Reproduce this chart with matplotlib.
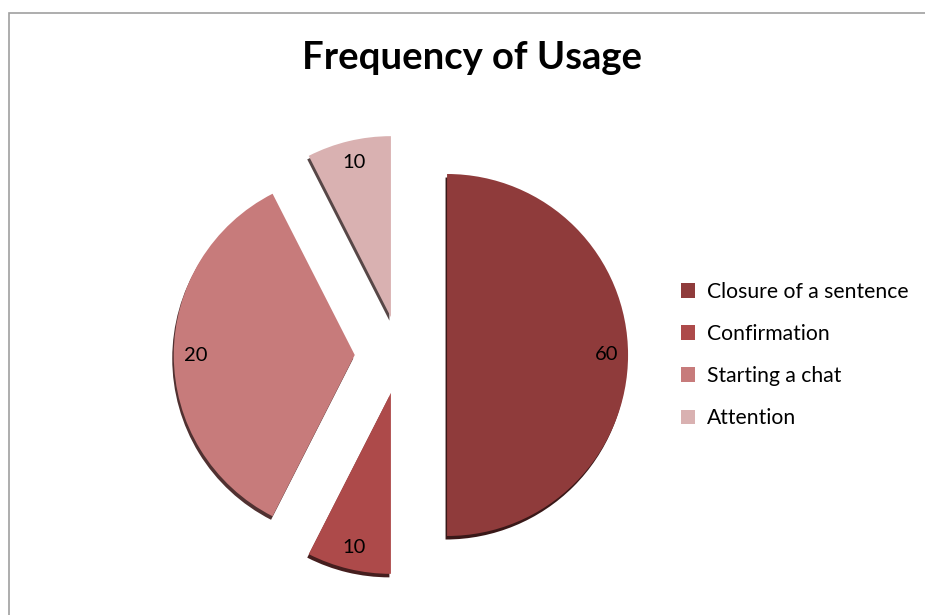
import numpy as np
import matplotlib.pyplot as plt
from matplotlib.patches import Rectangle

# slice shares as they appear in the picture, and the numbers printed on them
categories = ["Closure of a sentence", "Confirmation", "Starting a chat", "Attention"]
shares = [60, 9, 42, 9]
shown = ["60", "10", "20", "10"]
colors = ["#8f3b3b", "#ad4a4a", "#c77b7b", "#d9b1b1"]

plt.rcParams['font.family'] = ['Lato', 'DejaVu Sans']

W, H = 925, 615
fig = plt.figure(figsize=(W / 100, H / 100), dpi=100)

# chart frame (only the left and top edges are inside the image)
fig.patches.append(Rectangle((9 / W, -0.1), 1.2, (H - 13) / H + 0.1,
                             transform=fig.transFigure, fill=False,
                             edgecolor="#a0a0a0", linewidth=1.2))

ax = fig.add_axes([0, 0, 1, 1])
R = 181.0
cx, cy = 400, 355

wedges, _ = ax.pie(shares, colors=colors, startangle=90, counterclock=False,
                   explode=[0.26, 0.215, 0.25, 0.215], radius=1.0,
                   shadow=dict(ox=-0.006, oy=-0.014, shade=0.6, alpha=1),
                   wedgeprops=dict(linewidth=0))
ax.set_xlim(-cx / R, (W - cx) / R)
ax.set_ylim((cy - H) / R, cy / R)
ax.axis("off")

for w, txt in zip(wedges, shown):
    ang = np.deg2rad((w.theta1 + w.theta2) / 2)
    x = w.center[0] + 0.88 * np.cos(ang)
    y = w.center[1] + 0.88 * np.sin(ang)
    ax.text(x, y, txt, ha="center", va="center", fontsize=14.5, color="black")

fig.text(472 / W, 1 - 58 / H, "Frequency of Usage", ha="center", va="center",
         fontsize=27.5, fontweight="bold")

fig.legend(wedges, categories, loc="center left",
           bbox_to_anchor=(662 / W, 1 - 355 / H), frameon=False,
           fontsize=15.2, handlelength=0.68, handleheight=0.68,
           handletextpad=0.55, labelspacing=1.05)

fig.savefig("out.png", dpi=100)
